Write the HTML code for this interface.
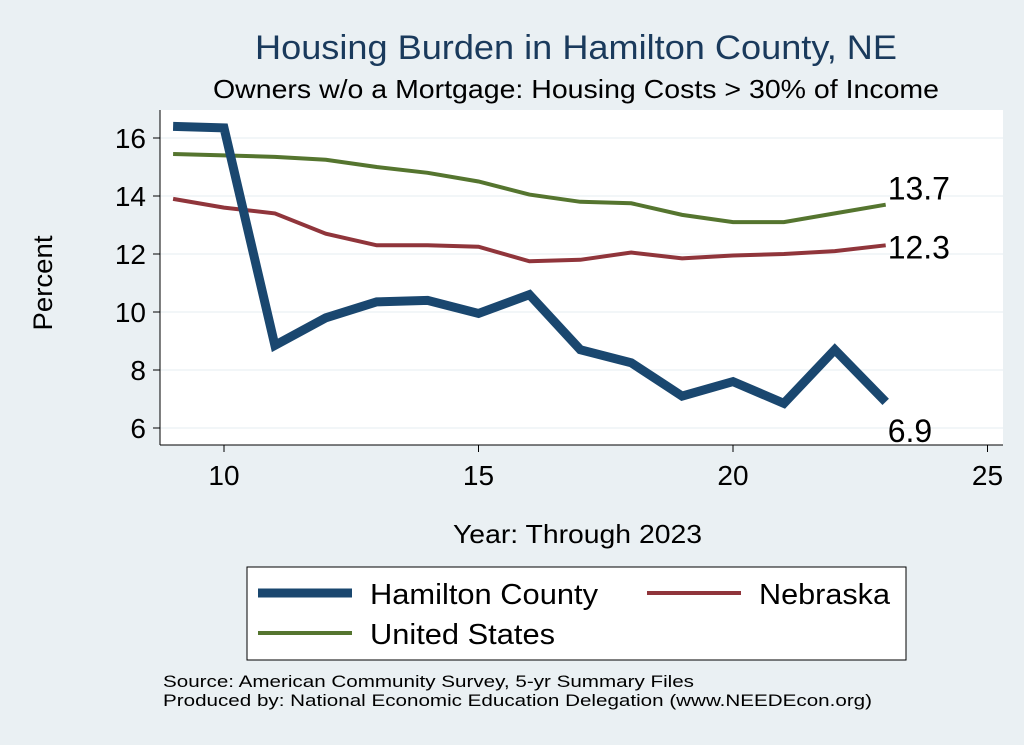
<!DOCTYPE html>
<html><head><meta charset="utf-8"><style>
body{margin:0;background:#eaf0f3;font-family:"Liberation Sans",sans-serif}
svg{display:block}
</style></head><body>
<svg width="1024" height="745" xmlns="http://www.w3.org/2000/svg">
<rect x="0" y="0" width="1024" height="745" fill="#eaf0f3"/>
<text x="255" y="59" font-size="34" fill="#1a3a5c" textLength="642" lengthAdjust="spacingAndGlyphs">Housing Burden in Hamilton County, NE</text>
<text x="213" y="98" font-size="26" fill="#000" textLength="726" lengthAdjust="spacingAndGlyphs">Owners w/o a Mortgage: Housing Costs &gt; 30% of Income</text>
<rect x="160" y="110" width="843" height="335" fill="#fff"/>
<g id="grid"></g>
<g id="axes"></g>
<g id="series"></g>
<text x="52" y="283" font-size="27" text-anchor="middle" textLength="95" lengthAdjust="spacingAndGlyphs" transform="rotate(-90 52 283)">Percent</text>
<text x="453" y="543" font-size="26" textLength="249" lengthAdjust="spacingAndGlyphs">Year: Through 2023</text>
<g>
<rect x="247" y="567" width="659" height="93" fill="#fff" stroke="#000" stroke-width="1"/>
<line x1="258" y1="593" x2="352" y2="593" stroke="#1a476f" stroke-width="9"/>
<text x="370" y="604" font-size="29" textLength="228" lengthAdjust="spacingAndGlyphs">Hamilton County</text>
<line x1="647" y1="593" x2="741" y2="593" stroke="#90353b" stroke-width="4"/>
<text x="759" y="604" font-size="29" textLength="131" lengthAdjust="spacingAndGlyphs">Nebraska</text>
<line x1="258" y1="633" x2="352" y2="633" stroke="#55752f" stroke-width="4"/>
<text x="370" y="644" font-size="29" textLength="185" lengthAdjust="spacingAndGlyphs">United States</text>
</g>
<text x="163" y="687" font-size="17" textLength="531" lengthAdjust="spacingAndGlyphs">Source: American Community Survey, 5-yr Summary Files</text>
<text x="163" y="706" font-size="17" textLength="709" lengthAdjust="spacingAndGlyphs">Produced by: National Economic Education Delegation (www.NEEDEcon.org)</text>
</svg>
<script>
const years=[9,10,11,12,13,14,15,16,17,18,19,20,21,22,23];
const hamilton=[16.4,16.35,8.85,9.8,10.35,10.4,9.95,10.6,8.7,8.25,7.1,7.6,6.85,8.7,6.9];
const nebraska=[13.9,13.6,13.4,12.7,12.3,12.3,12.25,11.75,11.8,12.05,11.85,11.95,12.0,12.1,12.3];
const us=[15.45,15.4,15.35,15.25,15.0,14.8,14.5,14.05,13.8,13.75,13.35,13.1,13.1,13.4,13.7];
const xTicks=[10,15,20,25];
const yTicks=[6,8,10,12,14,16];
const NS="http://www.w3.org/2000/svg";
const xs=v=>224+(v-10)*50.9;
const ys=v=>428-(v-6)*29;
function mk(t,a,p){const e=document.createElementNS(NS,t);for(const k in a)e.setAttribute(k,a[k]);document.getElementById(p).appendChild(e);return e;}
yTicks.forEach(v=>{
 const g=mk('line',{x1:160,x2:1003,y1:ys(v),y2:ys(v),stroke:'#eaf0f3','stroke-width':1.2},'grid');
 
 
 const t=mk('line',{x1:153,x2:160,y1:ys(v),y2:ys(v),stroke:'#000'},'axes');
 
 
 const l=mk('text',{x:146,y:ys(v)+10,'font-size':28,'text-anchor':'end'},'axes');l.textContent=v;
 
 
});
xTicks.forEach(v=>{
 const t=mk('line',{x1:xs(v),x2:xs(v),y1:445,y2:452,stroke:'#000'},'axes');
 
 
 const l=mk('text',{x:xs(v),y:485,'font-size':28,'text-anchor':'middle'},'axes');l.textContent=v;
 
 
});
const ya=mk('line',{x1:160,x2:160,y1:110,y2:445,stroke:'#000'},'axes');


const xa=mk('line',{x1:160,x2:1003,y1:445,y2:445,stroke:'#000'},'axes');


function line(vals,color,w,name,ldy){
 const p=mk('polyline',{points:vals.map((v,i)=>xs(years[i])+','+ys(v)).join(' '),fill:'none',stroke:color,'stroke-width':w,'stroke-linejoin':'miter'},'series');
 
 
 const last=vals[vals.length-1];
 const t=mk('text',{x:xs(years[years.length-1])+2,y:ys(last)+ldy,'font-size':32},'series');
 t.textContent=last.toFixed(1);
 
 
}
line(us,'#55752f',4,'us',-5);
line(nebraska,'#90353b',4,'nebraska',13);
line(hamilton,'#1a476f',9,'hamilton',40);
</script>
</body></html>
